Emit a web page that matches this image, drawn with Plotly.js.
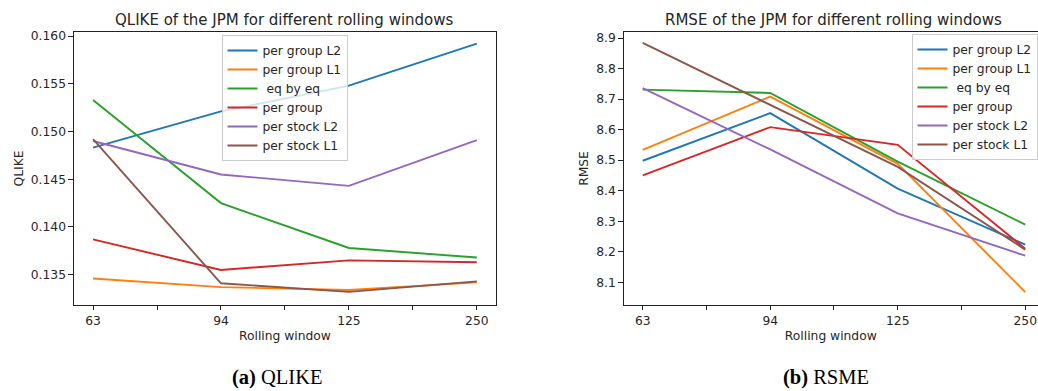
<!DOCTYPE html>
<html>
<head>
<meta charset="utf-8">
<script src="https://cdn.plot.ly/plotly-3.0.1.min.js"></script>
<style>html,body{margin:0;padding:0;background:#fff;}#chart{width:1038px;height:391px;}</style>
</head>
<body>
<div id="chart"></div>
<script>
// Rolling windows (categories)
const windows = ["63", "94", "125", "250"];
const seriesNames = ["per group L2", "per group L1", " eq by eq", "per group", "per stock L2", "per stock L1"];
const colors = ["#1f77b4", "#ff7f0e", "#2ca02c", "#d62728", "#9467bd", "#8c564b"];

// QLIKE values
const qlikePerGroupL2 = [0.1483, 0.1521, 0.1548, 0.1592];
const qlikePerGroupL1 = [0.1346, 0.1337, 0.1334, 0.1342];
const qlikeEqByEq     = [0.1533, 0.1425, 0.1378, 0.1368];
const qlikePerGroup   = [0.1387, 0.1355, 0.1365, 0.1363];
const qlikePerStockL2 = [0.1490, 0.1455, 0.1443, 0.1491];
const qlikePerStockL1 = [0.1492, 0.1341, 0.1332, 0.1343];

// RMSE values
const rmsePerGroupL2 = [8.498, 8.654, 8.407, 8.223];
const rmsePerGroupL1 = [8.534, 8.708, 8.488, 8.068];
const rmseEqByEq     = [8.731, 8.720, 8.495, 8.289];
const rmsePerGroup   = [8.450, 8.608, 8.550, 8.210];
const rmsePerStockL2 = [8.736, 8.535, 8.326, 8.187];
const rmsePerStockL1 = [8.884, 8.682, 8.478, 8.207];

const qlikeSeries = [qlikePerGroupL2, qlikePerGroupL1, qlikeEqByEq, qlikePerGroup, qlikePerStockL2, qlikePerStockL1];
const rmseSeries  = [rmsePerGroupL2, rmsePerGroupL1, rmseEqByEq, rmsePerGroup, rmsePerStockL2, rmsePerStockL1];

const xIdx = windows.map((_, i) => i);
const tickVals = [];
const tickText = [];
windows.forEach((w, i) => {
  tickVals.push(i); tickText.push(w);
  if (i < windows.length - 1) { tickVals.push(i + 0.5); tickText.push(""); }
});

const traces = [];
qlikeSeries.forEach((ys, k) => {
  traces.push({x: xIdx, y: ys, type: 'scatter', mode: 'lines', name: seriesNames[k],
    line: {color: colors[k], width: 1.9}, xaxis: 'x', yaxis: 'y', legend: 'legend'});
});
rmseSeries.forEach((ys, k) => {
  traces.push({x: xIdx, y: ys, type: 'scatter', mode: 'lines', name: seriesNames[k],
    line: {color: colors[k], width: 1.9}, xaxis: 'x2', yaxis: 'y2', legend: 'legend2'});
});

const FONT = "DejaVu Sans";
const TXT = "#262626";
const W = 1038, H = 391;
const px = v => v / W;
const py = v => 1 - v / H;

function xAxis(domain, range, anchor) {
  return {domain: domain, range: range, anchor: anchor, type: 'linear',
    tickmode: 'array', tickvals: tickVals, ticktext: tickText,
    showgrid: false, zeroline: false, showline: true, linecolor: '#222', linewidth: 1,
    mirror: true, ticks: 'outside', ticklen: 4.4, tickwidth: 1, tickcolor: '#222',
    tickfont: {family: FONT, size: 12.3, color: TXT}, automargin: false,
    title: {text: 'Rolling window', font: {family: FONT, size: 12.3, color: TXT}, standoff: 4}};
}
function yAxis(domain, range, anchor, dtick, fmt, label, mirror) {
  return {domain: domain, range: range, anchor: anchor, tickmode: 'linear', tick0: 0, dtick: dtick,
    tickformat: fmt, showgrid: false, zeroline: false, showline: true, linecolor: '#222', linewidth: 1,
    mirror: mirror, ticks: 'outside', ticklen: 4.4, tickwidth: 1, tickcolor: '#222',
    tickfont: {family: FONT, size: 12.3, color: TXT}, automargin: false,
    title: {text: label, font: {family: FONT, size: 12.3, color: TXT}, standoff: 4}};
}

const yDom = [py(305), py(32)];
const legendStyle = {bgcolor: 'rgba(255,255,255,0.8)', bordercolor: '#cccccc', borderwidth: 1,
  font: {family: FONT, size: 12.3, color: TXT}, xanchor: 'left', yanchor: 'top', tracegroupgap: 0};

const layout = {
  width: W, height: H, margin: {l: 0, r: 0, t: 0, b: 0},
  paper_bgcolor: '#fff', plot_bgcolor: '#fff', showlegend: true,
  font: {family: FONT, color: TXT},
  xaxis: xAxis([px(73.85), px(496)], [-0.15, 3.15], 'y'),
  yaxis: yAxis(yDom, [0.131827, 0.160419], 'x', 0.005, '.3f', 'QLIKE', true),
  xaxis2: xAxis([px(623.6), 1], [-0.15, 3.1], 'y2'),
  yaxis2: yAxis(yDom, [8.0256, 8.9197], 'x2', 0.1, '.1f', 'RMSE', false),
  legend: Object.assign({x: px(221.5), y: py(35)}, legendStyle),
  legend2: Object.assign({x: px(911.5), y: py(34)}, legendStyle),
  annotations: [
    {text: 'QLIKE of the JPM for different rolling windows', xref: 'paper', yref: 'paper',
      x: px(284), y: py(20), xanchor: 'center', yanchor: 'middle', showarrow: false,
      font: {family: FONT, size: 15, color: TXT}},
    {text: 'RMSE of the JPM for different rolling windows', xref: 'paper', yref: 'paper',
      x: px(833), y: py(20), xanchor: 'center', yanchor: 'middle', showarrow: false,
      font: {family: FONT, size: 15, color: TXT}},
    {text: '<b>(a)</b> QLIKE', xref: 'paper', yref: 'paper',
      x: px(277.5), y: py(377), xanchor: 'center', yanchor: 'middle', showarrow: false,
      font: {family: 'Liberation Serif', size: 20.5, color: '#000'}},
    {text: '<b>(b)</b> RSME', xref: 'paper', yref: 'paper',
      x: px(826), y: py(377), xanchor: 'center', yanchor: 'middle', showarrow: false,
      font: {family: 'Liberation Serif', size: 20.5, color: '#000'}}
  ]
};

Plotly.newPlot('chart', traces, layout, {displayModeBar: false, staticPlot: true});
</script>
</body>
</html>
